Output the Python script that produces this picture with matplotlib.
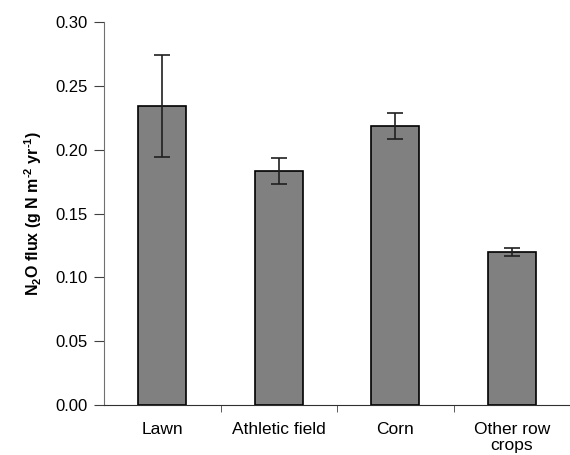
import numpy as np
import matplotlib.pyplot as plt

plt.rcParams['font.family'] = ['Liberation Sans', 'DejaVu Sans']
plt.rcParams['mathtext.default'] = 'regular'

categorias = ['Lawn', 'Athletic field', 'Corn', 'Other row\ncrops']
flujo = [0.234, 0.1835, 0.2187, 0.120]
error = [0.040, 0.010, 0.010, 0.003]

fig = plt.figure(figsize=(5.7, 4.55), dpi=100)
ax = fig.add_axes([0.1825, 0.11, 0.8175, 0.8415])

x = np.arange(len(categorias))
ax.bar(x, flujo, width=0.41, color='#808080', edgecolor='black', linewidth=1.2,
       yerr=error, error_kw=dict(ecolor='#202020', elinewidth=1.2, capsize=6, capthick=1.2))

ax.set_xlim(-0.5, 3.5)
ax.set_ylim(0, 0.30)
ax.set_yticks(np.arange(0, 0.31, 0.05))
ax.set_yticklabels([f'{v:.2f}' for v in np.arange(0, 0.31, 0.05)])

# etiquetas de categorias sin marca, marcas entre categorias
ax.set_xticks(x)
ax.set_xticklabels(categorias, linespacing=1.1)
ax.tick_params(axis='x', length=0, pad=12, labelsize=12.5)
ax.set_xticks(np.arange(0.5, 3.6, 1), minor=True)
ax.tick_params(axis='x', which='minor', length=5, direction='out', color='#404040')
ax.tick_params(axis='y', length=7, direction='out', color='#404040', labelsize=12, pad=5)

for lado in ['top', 'right']:
    ax.spines[lado].set_visible(False)
ax.spines['left'].set_color('#707070')
ax.spines['bottom'].set_color('#303030')

ax.set_ylabel('N$_2$O flux (g N m$^{\u20102}$ yr$^{\u20101}$)', fontweight='bold', fontsize=11.5, labelpad=8)

fig.savefig('out.png', dpi=100)
